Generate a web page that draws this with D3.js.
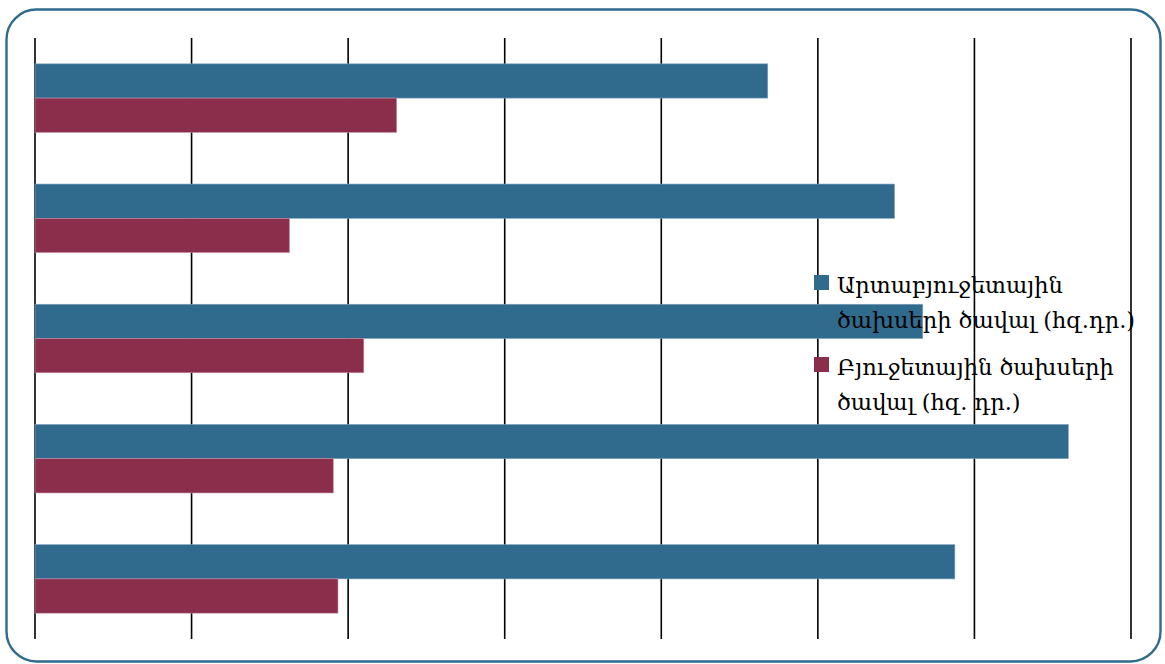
<!DOCTYPE html>
<html>
<head>
<meta charset="utf-8">
<script src="https://cdn.jsdelivr.net/npm/d3@7"></script>
<style>
  html, body { margin: 0; padding: 0; background: #fff; }
  svg { display: block; }
</style>
</head>
<body>
<svg id="chart" width="1165" height="664"></svg>
<script>
// Data (top to bottom as drawn)
const categories = ["1", "2", "3", "4", "5"];
const extraBudget = [936, 1098, 1134, 1320, 1175];   // Արտաբյուջետային ծախսերի ծավալ (հզ.դր.)
const budget = [462, 325, 420, 381, 387];             // Բյուջետային ծախսերի ծավալ (հզ. դր.)
const gridTicks = [0, 200, 400, 600, 800, 1000, 1200, 1400];
const seriesNames = [
  ["Արտաբյուջետային", "ծախսերի ծավալ (հզ.դր.)"],
  ["Բյուջետային ծախսերի", "ծավալ (հզ. դր.)"]
];
const colors = ["#306B8E", "#8A2E4C"];

const svg = d3.select("#chart");

// outer rounded frame
svg.append("rect")
  .attr("x", 6.5).attr("y", 9.5)
  .attr("width", 1154).attr("height", 652)
  .attr("rx", 30).attr("ry", 30)
  .attr("fill", "#fff")
  .attr("stroke", "#306B8E").attr("stroke-width", 2.4);

const plot = { left: 35, right: 1131, top: 38, bottom: 639 };

const x = d3.scaleLinear().domain([0, 1400]).range([plot.left, plot.right]);
const y = d3.scaleBand().domain(categories).range([plot.top, plot.bottom]).paddingInner(0.43).paddingOuter(0.215);
const sub = d3.scaleBand().domain([0, 1]).range([0, y.bandwidth()]);

// gridlines
svg.append("g")
  .selectAll("line")
  .data(gridTicks)
  .join("line")
  .attr("x1", d => x(d)).attr("x2", d => x(d))
  .attr("y1", plot.top).attr("y2", plot.bottom)
  .attr("stroke", "#000").attr("stroke-width", 1.6);

const rows = categories.map((c, i) => ({ c, vals: [extraBudget[i], budget[i]] }));

const g = svg.append("g");
rows.forEach(r => {
  r.vals.forEach((v, k) => {
    g.append("rect")
      .attr("x", x(0))
      .attr("y", y(r.c) + sub(k))
      .attr("width", x(v) - x(0))
      .attr("height", sub.bandwidth())
      .attr("fill", colors[k])
      .attr("stroke", k === 0 ? "#7fa3bd" : "#c98aa3")
      .attr("stroke-width", 0.6);
  });
});

// legend
const legend = svg.append("g");
const legY = [275, 357];
seriesNames.forEach((lines, k) => {
  legend.append("rect")
    .attr("x", 814).attr("y", legY[k])
    .attr("width", 15).attr("height", 15)
    .attr("fill", colors[k]);
  const t = legend.append("text")
    .attr("x", 837).attr("y", legY[k] + 18)
    .attr("font-family", "'DejaVu Serif', serif")
    .attr("font-size", 22.5)
    .attr("fill", "#000");
  lines.forEach((ln, j) => {
    t.append("tspan").attr("x", 837).attr("dy", j === 0 ? 0 : 35).text(ln);
  });
});
</script>
</body>
</html>
